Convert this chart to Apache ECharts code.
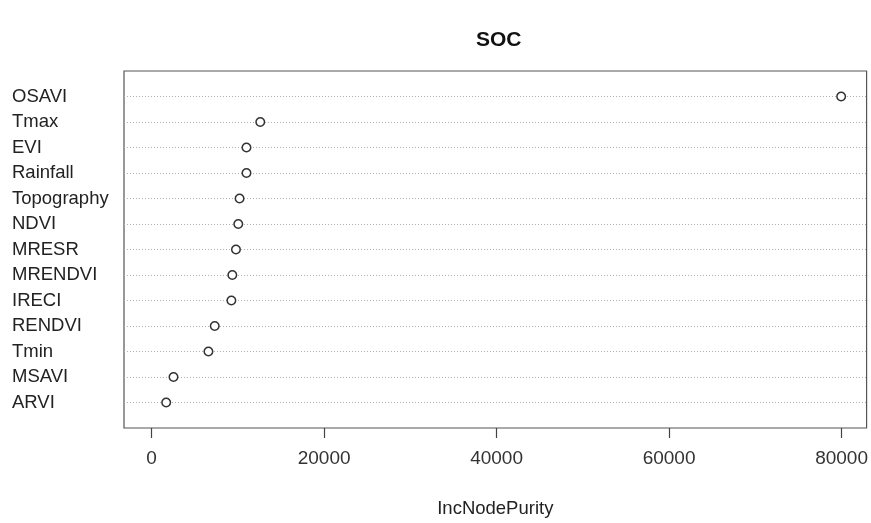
<!DOCTYPE html>
<html>
<head>
<meta charset="utf-8">
<script src="https://cdn.jsdelivr.net/npm/echarts@6/dist/echarts.min.js"></script>
<style>html,body{margin:0;padding:0;background:#fff}#c{width:871px;height:523px}</style>
</head>
<body>
<div id="c"></div>
<script>
// Variables listed top to bottom as in the chart
const categories = ['OSAVI','Tmax','EVI','Rainfall','Topography','NDVI','MRESR','MRENDVI','IRECI','RENDVI','Tmin','MSAVI','ARVI'];
const values = [79950, 12600, 11000, 11000, 10200, 10050, 9780, 9360, 9250, 7320, 6590, 2540, 1690];
const xTicks = [0, 20000, 40000, 60000, 80000];
const titleText = 'SOC';
const xName = 'IncNodePurity';

const n = categories.length;
const rowPos = categories.map((c, i) => n - i);
const data = values.map((v, i) => [v, rowPos[i]]);
const splitColors = [];
for (let i = 0; i <= n + 1; i++) splitColors.push(i === 0 || i === n + 1 ? 'rgba(0,0,0,0)' : '#b0b0b0');

const FONT = 'Liberation Sans, Arial, sans-serif';
const chart = echarts.init(document.getElementById('c'), null, {renderer: 'canvas'});
chart.setOption({
  backgroundColor: '#fff',
  animation: false,
  title: {
    text: titleText,
    left: 471, top: 25,
    textStyle: {fontFamily: FONT, fontWeight: 'bold', fontSize: 21, color: '#111'}
  },
  grid: {left: 124, right: 2, top: 71, bottom: 91, show: true, borderColor: '#555', borderWidth: 1.2, backgroundColor: 'transparent'},
  xAxis: {
    type: 'value', min: -3200, max: 82900,
    name: xName, nameLocation: 'middle', nameGap: 71,
    nameTextStyle: {fontFamily: FONT, fontSize: 18.5, color: '#222'},
    axisLine: {show: false},
    axisTick: {show: true, length: 10, inside: false, customValues: xTicks, lineStyle: {color: '#444', width: 1.2}},
    axisLabel: {customValues: xTicks, margin: 21, fontFamily: FONT, fontSize: 19, color: '#333', formatter: v => String(v)},
    splitLine: {show: false}
  },
  yAxis: {
    type: 'value', min: 0, max: n + 1, interval: 1,
    axisLine: {show: false},
    axisTick: {show: false},
    axisLabel: {
      customValues: rowPos, align: 'left', margin: 112,
      fontFamily: FONT, fontSize: 18.5, color: '#222',
      formatter: v => categories[n - v]
    },
    splitLine: {show: true, lineStyle: {color: splitColors, type: [1, 2], width: 1}}
  },
  series: [{
    type: 'scatter',
    data: data,
    symbol: 'circle',
    symbolSize: 8.5,
    itemStyle: {color: '#fff', borderColor: '#333', borderWidth: 1.5, opacity: 1},
    z: 5
  }]
});
</script>
</body>
</html>
